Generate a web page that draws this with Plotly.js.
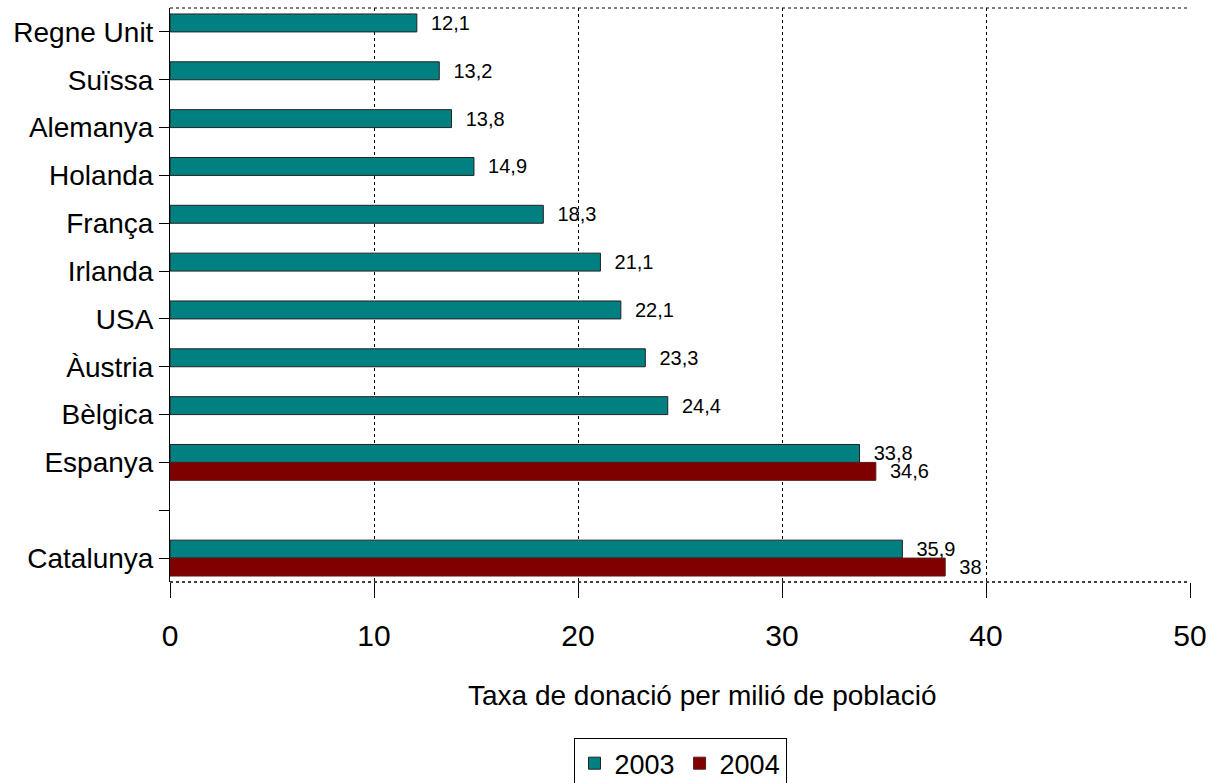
<!DOCTYPE html>
<html>
<head>
<meta charset="utf-8">
<script src="https://cdn.plot.ly/plotly-3.0.1.min.js"></script>
<style>
  html, body { margin: 0; padding: 0; background: #fff; }
  #chart { width: 1221px; height: 783px; }
</style>
</head>
<body>
<div id="chart"></div>
<script>
// categories top to bottom; the blank one is the empty slot between Espanya and Catalunya
const countries = ['Regne Unit', 'Suïssa', 'Alemanya', 'Holanda', 'França', 'Irlanda',
                   'USA', 'Àustria', 'Bèlgica', 'Espanya', ' ', 'Catalunya'];
const rate2003 = [12.1, 13.2, 13.8, 14.9, 18.3, 21.1, 22.1, 23.3, 24.4, 33.8, null, 35.9];
const rate2004 = [null, null, null, null, null, null, null, null, null, 34.6, null, 38];
const xTicks   = [0, 10, 20, 30, 40, 50];

const FONT = '"Liberation Sans Narrow", "Arial Narrow", "Liberation Sans", Arial, sans-serif';

// Catalan number format: decimal comma, with a little gap before it
const label = v => (v == null ? '' : '\u00a0\u00a0' + String(v).replace('.', ','));

const traces = [
  {
    name: '2003',
    type: 'bar',
    orientation: 'h',
    y: countries,
    x: rate2003,
    text: rate2003.map(label),
    textposition: 'outside',
    constraintext: 'none',
    cliponaxis: false,
    textfont: { family: FONT, size: 20, color: '#000' },
    marker: { color: '#008080', line: { color: '#222', width: 1 } },
  },
  {
    name: '2004',
    type: 'bar',
    orientation: 'h',
    y: countries,
    x: rate2004,
    text: rate2004.map(label),
    textposition: 'outside',
    constraintext: 'none',
    cliponaxis: false,
    textfont: { family: FONT, size: 20, color: '#000' },
    marker: { color: '#800000', line: { color: '#5a1a1a', width: 1 } },
  },
];

const layout = {
  width: 1221,
  height: 783,
  margin: { t: 8, r: 31, b: 201, l: 170, autoexpand: false },
  paper_bgcolor: '#fff',
  plot_bgcolor: '#fff',
  font: { family: FONT, size: 28, color: '#000' },
  barmode: 'group',
  bargap: 0.25,
  bargroupgap: 0,
  showlegend: true,
  legend: {
    orientation: 'h',
    x: 0.5, xanchor: 'center',
    y: -0.272, yanchor: 'top',
    bordercolor: '#000', borderwidth: 1,
    font: { family: FONT, size: 27 },
    traceorder: 'normal',
  },
  xaxis: {
    range: [0, 50],
    tickvals: xTicks,
    ticktext: xTicks.map(String),
    ticks: 'outside', ticklen: 15, tickcolor: '#000', tickwidth: 1,
    ticklabelstandoff: 12,
    tickfont: { family: FONT, size: 30 },
    showgrid: true, gridcolor: '#000', gridwidth: 1, griddash: 'dot',
    zeroline: false,
    showline: false,
    fixedrange: true,
  },
  yaxis: {
    type: 'category',
    categoryorder: 'array',
    categoryarray: countries,
    autorange: 'reversed',
    ticks: 'outside', ticklen: 10, tickcolor: '#000', tickwidth: 1,
    tickfont: { family: FONT, size: 28 },
    showline: true, linecolor: '#000', linewidth: 1,
    showgrid: false,
    zeroline: false,
    fixedrange: true,
  },
  shapes: [
    { type: 'line', xref: 'paper', yref: 'paper', x0: 0, x1: 1, y0: 1, y1: 1,
      line: { color: '#000', width: 1, dash: 'dot' } },
    { type: 'line', xref: 'paper', yref: 'paper', x0: 0, x1: 1, y0: 0, y1: 0,
      line: { color: '#000', width: 1.5, dash: 'dot' } },
  ],
  annotations: [
    {
      xref: 'paper', yref: 'paper',
      x: 0.5216, y: -0.197,
      xanchor: 'center', yanchor: 'middle',
      text: 'Taxa de donació per milió de població',
      showarrow: false,
      font: { family: FONT, size: 28, color: '#000' },
    },
  ],
};

Plotly.newPlot('chart', traces, layout, { displayModeBar: false, staticPlot: true });
</script>
</body>
</html>
